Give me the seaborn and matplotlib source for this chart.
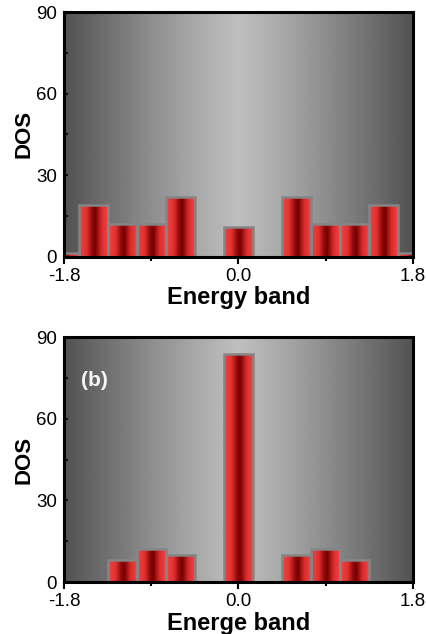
import numpy as np
import pandas as pd
import seaborn as sns
from matplotlib import pyplot as plt
from matplotlib.colors import LinearSegmentedColormap
from matplotlib.ticker import MultipleLocator

# density of states (bins of width 0.3)
energy_a = [-1.8, -1.5, -1.2, -0.9, -0.6, 0.0, 0.6, 0.9, 1.2, 1.5, 1.8]
dos_a = [1.5, 19, 12, 12, 22, 11, 22, 12, 12, 19, 1.5]

energy_b = [-1.2, -0.9, -0.6, 0.0, 0.6, 0.9, 1.2]
dos_b = [8, 12, 10, 84, 10, 12, 8]

xlabels = ["Energy band", "Energe band"]
yticks = [0, 30, 60, 90]
xticks = [-1.8, 0.0, 1.8]

sns.set_style("ticks")
plt.rcParams["font.family"] = ["Liberation Sans", "DejaVu Sans"]
plt.rcParams["text.color"] = "black"
plt.rcParams["axes.labelcolor"] = "black"
plt.rcParams["xtick.color"] = "black"
plt.rcParams["ytick.color"] = "black"

bar_cmap = LinearSegmentedColormap.from_list(
    "bar", [(0.0, "#f24444"), (0.25, "#e03030"), (0.45, "#8a0808"),
            (0.55, "#780000"), (0.75, "#d82a2a"), (1.0, "#f44848")])
bg_t = np.linspace(-1, 1, 400)
bg = (190 - 108 * np.abs(bg_t) ** 1.15) / 255.0


def draw_panel(ax, x, y, xlabel):
    df = pd.DataFrame({"E": x, "DOS": y})
    sns.barplot(data=df, x="E", y="DOS", native_scale=True, width=1.0,
                color="#d02020", edgecolor="#858585", linewidth=1.8, ax=ax)
    ax.set_xlim(-1.8, 1.8)
    ax.set_ylim(0, 90)
    ax.imshow(bg[np.newaxis, :], extent=[0, 1, 0, 1], transform=ax.transAxes,
              aspect="auto", cmap="gray", vmin=0, vmax=1, zorder=0)
    lo, hi = ax.get_xlim()
    for p in ax.patches:
        bb = p.get_bbox()
        x0, x1 = max(bb.x0, lo), min(bb.x1, hi)
        t0 = (x0 - bb.x0) / bb.width
        t1 = (x1 - bb.x0) / bb.width
        g = np.linspace(t0, t1, 100)[np.newaxis, :]
        im = ax.imshow(g, extent=[x0, x1, bb.y0, bb.y1], aspect="auto",
                       cmap=bar_cmap, vmin=0, vmax=1, zorder=2)
        im.set_clip_path(p)
        p.set_facecolor("none")
        p.set_zorder(3)
    ax.set_xlim(-1.8, 1.8)
    ax.set_ylim(0, 90)
    ax.set_xticks(xticks)
    ax.set_xticklabels(["-1.8", "0.0", "1.8"])
    ax.xaxis.set_minor_locator(MultipleLocator(0.9))
    ax.set_yticks(yticks)
    ax.yaxis.set_minor_locator(MultipleLocator(15))
    ax.tick_params(axis="x", which="both", direction="out", labelsize=13.5, pad=3,
                   width=1.5)
    ax.tick_params(axis="x", which="major", length=5)
    ax.tick_params(axis="x", which="minor", length=3)
    ax.tick_params(axis="y", which="both", direction="in", labelsize=13.5, pad=5,
                   width=1.2, length=3)
    for s in ax.spines.values():
        s.set_visible(True)
        s.set_linewidth(2.2)
        s.set_color("black")
        s.set_zorder(5)
    ax.set_xlabel(xlabel, fontsize=17, fontweight="bold", labelpad=1)
    ax.set_ylabel("DOS", fontsize=16, fontweight="bold", labelpad=1)


fig = plt.figure(figsize=(4.27, 6.34), dpi=100)
ax1 = fig.add_axes([0.150, 0.595, 0.817, 0.386])
ax2 = fig.add_axes([0.150, 0.082, 0.817, 0.386])

draw_panel(ax1, energy_a, dos_a, xlabels[0])
draw_panel(ax2, energy_b, dos_b, xlabels[1])
ax2.text(-1.63, 74, "(b)", color="#f4f4f4", fontsize=15, fontweight="bold",
         va="center", ha="left", zorder=6)

fig.savefig("out.png", dpi=100)
